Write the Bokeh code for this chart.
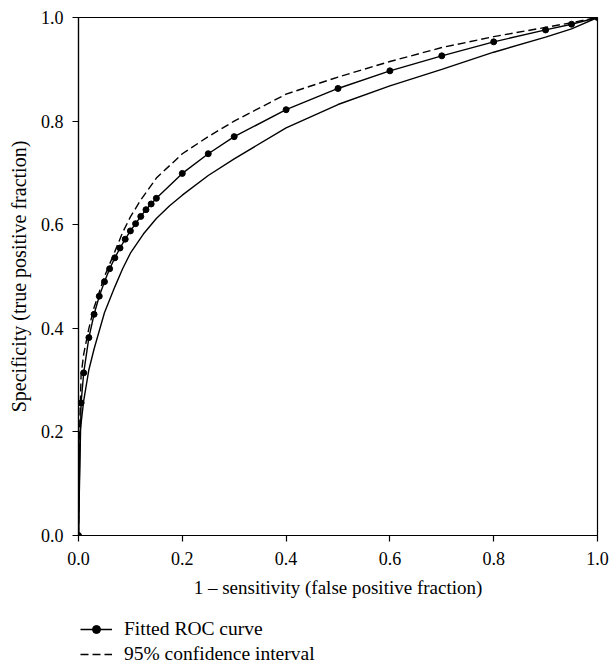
from bokeh.plotting import figure
from bokeh.layouts import column
from bokeh.models import FixedTicker, NumeralTickFormatter, Legend, LegendItem, Range1d
from bokeh.embed import file_html
from bokeh.resources import INLINE

# Fitted ROC curve
fpr_fit = [0, 0.005, 0.01, 0.02, 0.03, 0.04, 0.05, 0.06, 0.07, 0.08, 0.09, 0.10,
           0.11, 0.12, 0.13, 0.14, 0.15, 0.2, 0.25, 0.3, 0.4, 0.5, 0.6, 0.7,
           0.8, 0.9, 0.95, 1.0]
tpr_fit = [0, 0.256, 0.314, 0.382, 0.427, 0.462, 0.490, 0.515, 0.536, 0.555,
           0.572, 0.588, 0.602, 0.616, 0.629, 0.640, 0.651, 0.699, 0.737, 0.770,
           0.822, 0.863, 0.897, 0.926, 0.953, 0.976, 0.987, 1.0]

# Upper 95% confidence bound (dashed)
fpr_up = [0, 0.002, 0.005, 0.01, 0.02, 0.03, 0.05, 0.07, 0.085, 0.1, 0.12, 0.15,
          0.2, 0.25, 0.3, 0.4, 0.5, 0.6, 0.7, 0.8, 0.9, 0.95, 1.0]
tpr_up = [0, 0.20, 0.31, 0.35, 0.40, 0.44, 0.50, 0.548, 0.585, 0.615, 0.648, 0.69,
          0.737, 0.770, 0.80, 0.852, 0.885, 0.915, 0.942, 0.963, 0.981, 0.99, 1.0]

# Lower 95% confidence bound (solid)
fpr_lo = [0, 0.003, 0.01, 0.02, 0.03, 0.05, 0.07, 0.085, 0.1, 0.125, 0.15, 0.175,
          0.2, 0.25, 0.3, 0.4, 0.5, 0.6, 0.7, 0.8, 0.9, 0.95, 1.0]
tpr_lo = [0, 0.20, 0.26, 0.32, 0.36, 0.43, 0.48, 0.515, 0.545, 0.582, 0.612, 0.636,
          0.657, 0.695, 0.727, 0.787, 0.832, 0.868, 0.900, 0.933, 0.962, 0.978, 1.0]

x_ticks = [0, 0.2, 0.4, 0.6, 0.8, 1.0]
y_ticks = [0, 0.2, 0.4, 0.6, 0.8, 1.0]

legend_labels = ["Fitted ROC curve", "95% confidence interval"]

FONT = "Liberation Serif"
DASH = "8 4"

p = figure(width=609, height=610, output_backend="svg", toolbar_location=None,
           x_range=Range1d(0, 1), y_range=Range1d(0, 1),
           min_border_left=78, min_border_right=12, min_border_top=17,
           min_border_bottom=75)
p.grid.visible = False
p.outline_line_color = "black"
p.outline_line_width = 1.2

p.line(fpr_up, tpr_up, line_color="black", line_width=1.4, line_dash=DASH)
p.line(fpr_lo, tpr_lo, line_color="black", line_width=1.4)
p.line(fpr_fit, tpr_fit, line_color="black", line_width=1.4)
p.scatter(fpr_fit, tpr_fit, size=6, fill_color="black", line_color="black")

for ax in (p.xaxis[0], p.yaxis[0]):
    ax.axis_line_color = "black"
    ax.axis_line_width = 1.2
    ax.major_tick_line_width = 1.2
    ax.major_tick_out = 6
    ax.major_tick_in = 0
    ax.minor_tick_line_color = None
    ax.major_label_text_font = FONT
    ax.major_label_text_font_size = "18px"
    ax.major_label_text_color = "black"
    ax.axis_label_text_font = FONT
    ax.axis_label_text_font_style = "normal"
    ax.axis_label_text_color = "black"
    ax.formatter = NumeralTickFormatter(format="0.0")

p.xaxis[0].ticker = FixedTicker(ticks=x_ticks)
p.yaxis[0].ticker = FixedTicker(ticks=y_ticks)
p.xaxis[0].axis_label = "1 \u2013 sensitivity (false positive fraction)"
p.yaxis[0].axis_label = "Specificity (true positive fraction)"
p.xaxis[0].axis_label_text_font_size = "19px"
p.yaxis[0].axis_label_text_font_size = "20px"
p.xaxis[0].major_label_standoff = 10
p.yaxis[0].major_label_standoff = 9
p.xaxis[0].axis_label_standoff = 9
p.yaxis[0].axis_label_standoff = 8

# Legend strip below the chart: same series, drawn out of view so that
# only their legend glyphs show
p2 = figure(width=609, height=59, output_backend="svg", toolbar_location=None,
            x_range=Range1d(0, 1), y_range=Range1d(5, 6),
            x_axis_type=None, y_axis_type=None, min_border=0)
p2.grid.visible = False
p2.outline_line_color = None
l_fit = p2.line(fpr_fit, tpr_fit, line_color="black", line_width=1.4)
l_pts = p2.scatter(fpr_fit, tpr_fit, size=5, fill_color="black", line_color="black")
l_ci = p2.line(fpr_up, tpr_up, line_color="black", line_width=1.4, line_dash=DASH)

legend = Legend(items=[
    LegendItem(label=legend_labels[0], renderers=[l_fit, l_pts]),
    LegendItem(label=legend_labels[1], renderers=[l_ci]),
], location=(2, 4), orientation="vertical")
legend.border_line_color = None
legend.background_fill_alpha = 0
legend.label_text_font = FONT
legend.label_text_font_size = "19.5px"
legend.label_text_color = "black"
legend.glyph_width = 32
legend.glyph_height = 20
legend.spacing = 3
legend.padding = 0
legend.margin = 0
legend.label_standoff = 12
legend.label_height = 20
p2.add_layout(legend)

layout = column(p, p2, spacing=0)
open("out.html", "w").write(file_html(layout, INLINE))
